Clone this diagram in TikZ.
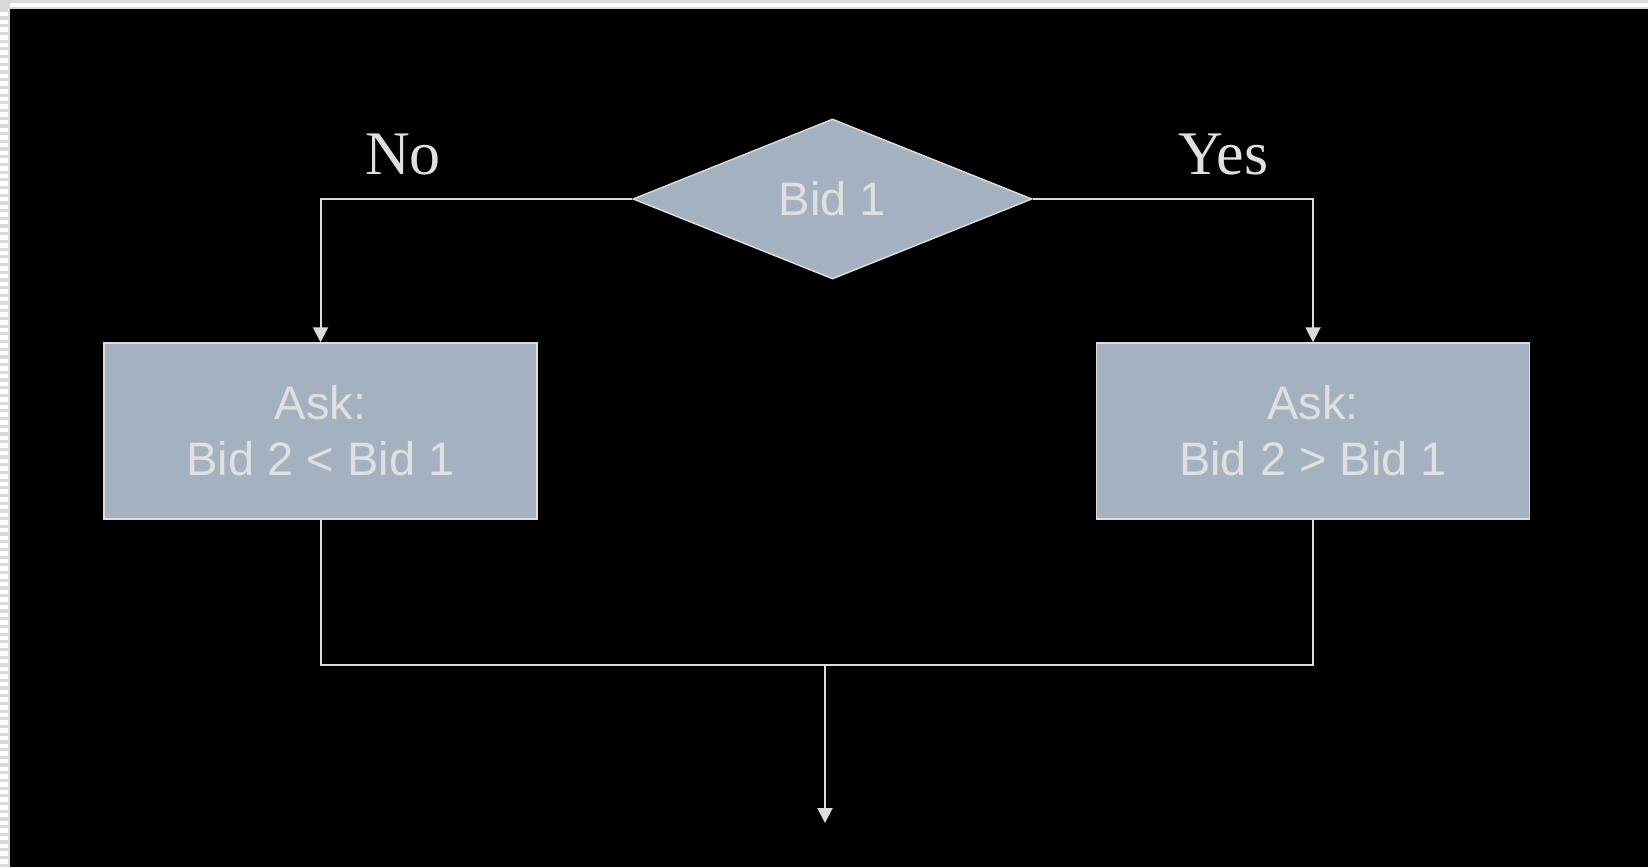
\documentclass[tikz,border=0pt]{standalone}
\usepackage{fontspec}
\setmainfont{Liberation Serif}
\setsansfont{Liberation Sans}
\usetikzlibrary{shapes.geometric,arrows.meta}
\definecolor{boxfill}{RGB}{163,177,192}
\definecolor{boxtext}{RGB}{224,224,224}
\definecolor{linec}{RGB}{220,220,220}
\definecolor{stripg}{RGB}{218,218,218}
\tikzset{
  procbox/.style={draw=linec, line width=1.5pt, fill=boxfill, minimum width=433pt, minimum height=176pt,
    inner sep=0pt, align=center, text=boxtext, font=\sffamily\fontsize{47}{56}\selectfont},
  decision/.style={diamond, draw=linec, line width=1.5pt, fill=boxfill, minimum width=399pt, minimum height=160pt,
    aspect=2.5, inner sep=0pt, text=boxtext, font=\sffamily\fontsize{47}{56}\selectfont},
  flow/.style={draw=linec, line width=2pt},
  arrowflow/.style={flow, -{Triangle[width=15pt,length=15pt]}},
  lbl/.style={text=boxtext, font=\rmfamily\fontsize{62}{70}\selectfont, inner sep=0pt, anchor=base}
}
\begin{document}
\begin{tikzpicture}[x=1pt,y=-1pt]
\useasboundingbox (0,0) rectangle (1648,867);
% frame
\fill[stripg] (0,0) rectangle (1648,867);
\fill[white] (10,3) rectangle (1648,7);
\foreach \k in {0,...,112} {
  \fill[white] (0,{12+\k*7.7}) rectangle (7.5,{16.5+\k*7.7});
}
\fill[black] (10,9) rectangle (1648,867);
% nodes
\node[decision] (d) at (832.5,199) {Bid 1};
\node[procbox] (l) at (320.5,431) {Ask:\\Bid 2 < Bid 1};
\node[procbox] (r) at (1313,431) {Ask:\\Bid 2 > Bid 1};
\node[lbl] (no) at (403,174) {No};
\node[lbl] (yes) at (1223.5,174) {Yes};
\coordinate (j) at (825,665);
\coordinate (e) at (825,823);
% connectors
\draw[arrowflow] (d.west) -| (l.north);
\draw[arrowflow] (d.east) -| (r.north);
\draw[flow] (l.south) |- (j) -| (r.south);
\draw[arrowflow] (j) -- (e);
\end{tikzpicture}
\end{document}
